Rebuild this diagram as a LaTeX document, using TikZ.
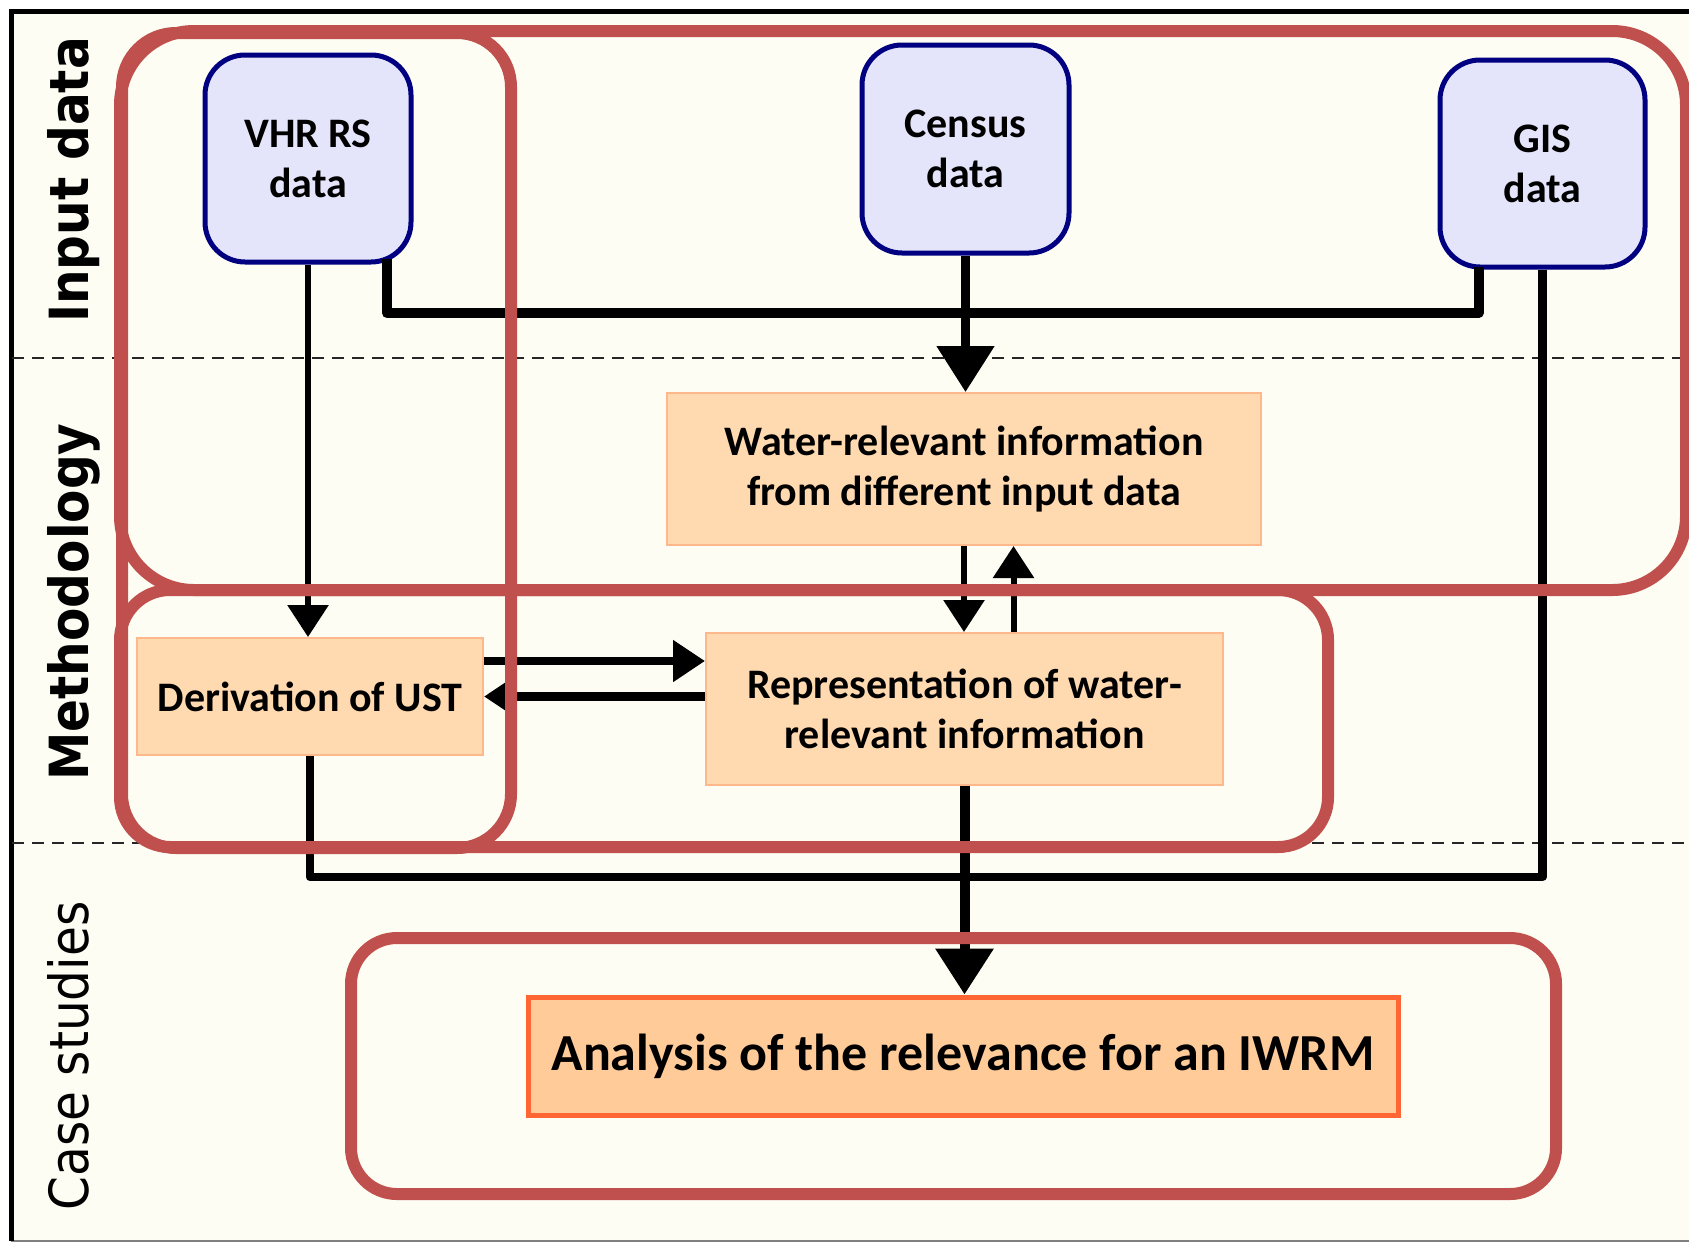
\documentclass[tikz,border=0pt]{standalone}
\usepackage{fontspec}
\usepackage{graphicx}
\usetikzlibrary{arrows.meta,calc}
\newfontfamily\boxfont{Carlito}
\newfontfamily\labfont{DejaVu Sans}
\definecolor{bgcream}{RGB}{254,253,243}
\definecolor{bluefill}{RGB}{228,228,250}
\definecolor{bluedraw}{RGB}{0,0,128}
\definecolor{peach}{RGB}{255,218,176}
\definecolor{peachdraw}{RGB}{255,184,140}
\definecolor{anafill}{RGB}{255,204,153}
\definecolor{anadraw}{RGB}{255,102,51}
\definecolor{redframe}{RGB}{192,80,77}
\begin{document}
\begin{tikzpicture}[x=0.5pt,y=-0.5pt,
  inbox/.style={draw=bluedraw, fill=bluefill, line width=2.5pt, rounded corners=20pt,
    align=center, inner sep=0pt, font=\boxfont\bfseries\fontsize{21}{25}\selectfont},
  procbox/.style={draw=peachdraw, fill=peach, line width=1pt, align=center, inner sep=0pt,
    font=\boxfont\bfseries\fontsize{21}{25}\selectfont},
  anabox/.style={draw=anadraw, fill=anafill, line width=2.5pt, align=center, inner sep=0pt,
    font=\boxfont\bfseries\fontsize{26}{30}\selectfont},
  sidelab/.style={rotate=90, anchor=base, inner sep=0pt, font=\labfont\fontsize{27}{32}\selectfont},
  thinline/.style={line width=3pt},
  midline/.style={line width=4.25pt, line join=round},
  thickline/.style={line width=5pt, line join=round},
  smalltip/.style={-{Triangle[width=20pt,length=16pt]}},
  bigtip/.style={-{Triangle[width=28pt,length=23pt]}},
  redline/.style={draw=redframe, line width=6pt},
  sepline/.style={draw=black!85, line width=1pt, dash pattern=on 6pt off 4pt}
]
\useasboundingbox (0,0) rectangle (1689,1243);
\clip (0,0) rectangle (1689,1243);
% background and frame
\fill[white] (0,0) rectangle (1689,1243);
\fill[bgcream] (11,11) rectangle (1689,1241);
\draw[gray, line width=1pt] (11,1241) -- (1689,1241);
\draw[black, line width=2.5pt] (1689,11) -- (11,11) -- (11,1241);
% section separators
\draw[sepline] (12,358) -- (1689,358);
\draw[sepline] (12,843) -- (1689,843);
% side labels
\node[sidelab] (labin) at (88,180) {\scalebox{0.9}[1]{\bfseries Input data}};
\node[sidelab] (labme) at (88,602) {\scalebox{0.9}[1]{\bfseries Methodology}};
\node[sidelab] (labca) at (88,1056) {\scalebox{0.9}[1]{Case studies}};
% nodes
\node[inbox, minimum width=103pt, minimum height=103.5pt] (vhr) at (308,158.5) {VHR RS\\data};
\node[inbox, minimum width=103.5pt, minimum height=104pt] (census) at (965.5,149) {Census\\data};
\node[inbox, minimum width=102.5pt, minimum height=103.5pt] (gis) at (1542.5,163.5) {GIS\\data};
\node[procbox, minimum width=297pt, minimum height=76pt] (water) at (964,469) {Water-relevant information\\from different input data};
\node[procbox, minimum width=173pt, minimum height=58.5pt] (deriv) at (310,696.5) {Derivation of UST};
\node[procbox, minimum width=258.5pt, minimum height=76pt] (rep) at (964.5,709) {Representation of water-\\relevant information};
\node[anabox, minimum width=435pt, minimum height=59pt] (ana) at (963,1056) {Analysis of the relevance for an IWRM};
% helper coordinates
\coordinate (topbar) at (0,313);
\coordinate (lowbar) at (0,877);
% connectors
\draw[thinline, smalltip] (vhr.south) -- (vhr.south |- deriv.north);
\draw[thickline] ([xshift=39.5pt,yshift=3pt]vhr.south) -- ([xshift=39.5pt]vhr.south |- topbar)
   -- ([xshift=-32pt]gis.south |- topbar) -- ([xshift=-32pt,yshift=1.5pt]gis.south);
\draw[midline, bigtip] (census.south) -- (census.south |- water.north);
\draw[midline] (gis.south) -- (gis.south |- lowbar) -- (deriv.south |- lowbar) -- (deriv.south);
\draw[thickline, bigtip] (rep.south) -- (rep.south |- ana.north);
\draw[thinline, smalltip] (water.south) -- (water.south |- rep.north);
\draw[thinline, smalltip] ([xshift=24.5pt]rep.north) -- ([xshift=24.5pt]rep.north |- water.south);
\draw[midline, smalltip] ([yshift=17.75pt]deriv.east) -- ([yshift=17.75pt]deriv.east -| rep.west);
\draw[midline, smalltip] (deriv.east -| rep.west) -- (deriv.east);
% red grouping frames
\draw[redline, rounded corners=37pt] (120,31) rectangle (1686,590);
\draw[redline, rounded corners=27pt] (122,33) rectangle (511,848);
\draw[redline, rounded corners=25pt] (120,590) rectangle (1328,847);
\draw[redline, rounded corners=23pt] (351,938) rectangle (1556,1194);
\end{tikzpicture}
\end{document}
